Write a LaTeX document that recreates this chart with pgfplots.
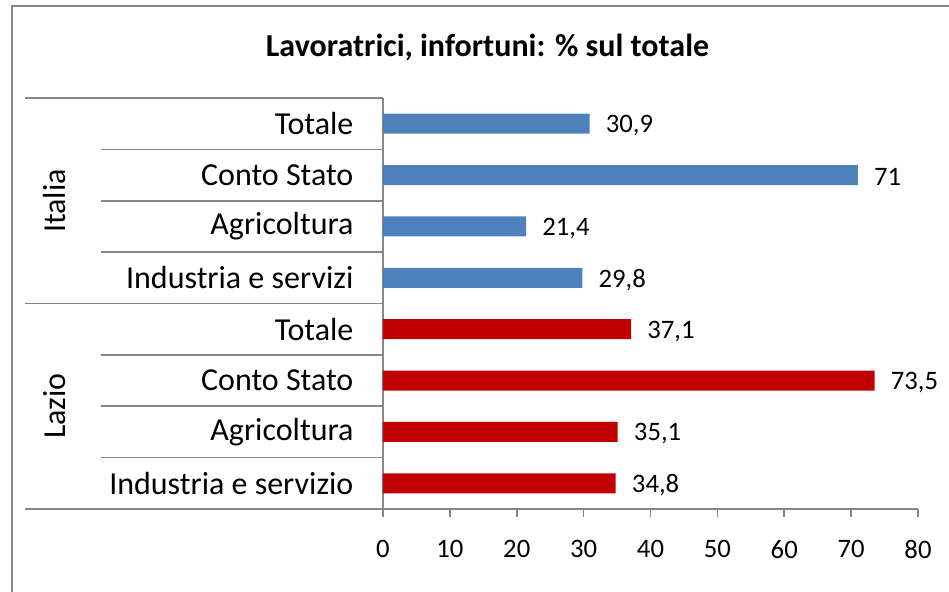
\documentclass[border=0pt]{standalone}
\usepackage{fontspec}
\setmainfont{Carlito}
\usepackage{pgfplots}
\pgfplotsset{compat=1.18}
\definecolor{barblue}{HTML}{4F81BD}
\definecolor{barred}{HTML}{C00000}
\definecolor{axisgray}{HTML}{868686}
\begin{document}
\begin{tikzpicture}
\begin{axis}[at={(0,0)}, anchor=south west,
  width=401.25pt, height=308.25pt, scale only axis,
  xmin=0, xmax=80, ymin=-0.5, ymax=7.5,
  xbar, bar width=15pt, bar shift=0pt,
  axis x line*=bottom, axis y line*=left,
  axis line style={draw=axisgray, line width=1.2pt, -},
  xtick={0,10,...,80}, ytick={0,...,7},
  yticklabels={Industria e servizio, Agricoltura, Conto Stato, Totale, Industria e servizi, Agricoltura, Conto Stato, Totale},
  tick align=outside, major tick length=6pt,
  x tick style={draw=axisgray, line width=1.2pt},
  y tick style={draw=none},
  /pgf/number format/assume math mode=true,
  /pgf/number format/use comma,
  xticklabel style={font=\fontsize{20}{24}\selectfont, inner sep=0pt, anchor=north, yshift=-17.5pt},
  yticklabel style={font=\fontsize{24}{28}\selectfont, inner sep=0pt, anchor=east, xshift=-16pt},
  point meta=x,
  nodes near coords,
  nodes near coords style={font=\fontsize{20}{24}\selectfont, anchor=west, inner sep=0pt, xshift=12pt, yshift=-1.5pt, text=black},
  clip=false,
]
\addplot[fill=barblue, draw=none] coordinates {(30.9,7) (71,6) (21.4,5) (29.8,4)};
\addplot[fill=barred, draw=none] coordinates {(37.1,3) (73.5,2) (35.1,1) (34.8,0)};
\draw[axisgray, line width=1.2pt] (axis cs:-53.53,7.5) -- (axis cs:0,7.5);
\draw[axisgray, line width=1.2pt] (axis cs:-53.53,3.5) -- (axis cs:0,3.5);
\draw[axisgray, line width=1.2pt] (axis cs:-53.53,-0.5) -- (axis cs:0,-0.5);
\draw[axisgray, line width=1.2pt] (axis cs:-42.17,0.5) -- (axis cs:0,0.5);
\draw[axisgray, line width=1.2pt] (axis cs:-42.17,1.5) -- (axis cs:0,1.5);
\draw[axisgray, line width=1.2pt] (axis cs:-42.17,2.5) -- (axis cs:0,2.5);
\draw[axisgray, line width=1.2pt] (axis cs:-42.17,4.5) -- (axis cs:0,4.5);
\draw[axisgray, line width=1.2pt] (axis cs:-42.17,5.5) -- (axis cs:0,5.5);
\draw[axisgray, line width=1.2pt] (axis cs:-42.17,6.5) -- (axis cs:0,6.5);
\end{axis}
\begin{scope}[x=0.75pt,y=-0.75pt,shift={(-383,-509)}]
\path[use as bounding box] (0,0) rectangle (949,592);
\draw[axisgray, line width=1.5pt] (12,592) -- (12,6) -- (949,6);
\node[font=\bfseries\fontsize{24}{28}\selectfont] at (487.5,47) {Lavoratrici, infortuni: \% sul totale};
\node[rotate=90, font=\fontsize{24}{28}\selectfont] at (55,201) {Italia};
\node[rotate=90, font=\fontsize{24}{28}\selectfont] at (55,406) {Lazio};
\end{scope}
\end{tikzpicture}
\end{document}
